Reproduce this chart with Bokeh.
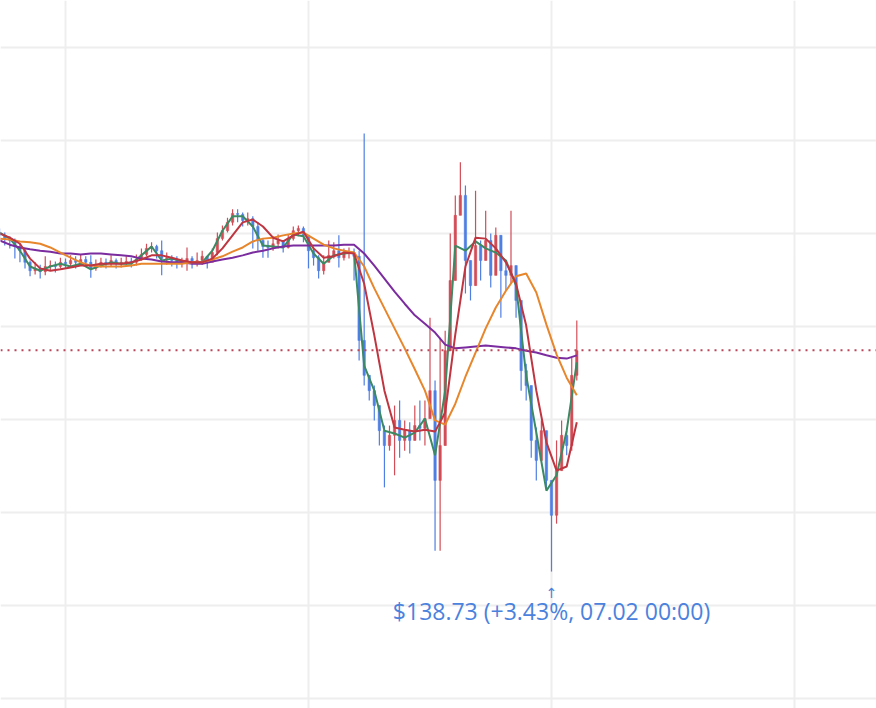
import numpy as np
from bokeh.plotting import figure
from bokeh.models import Range1d, FixedTicker, SingleIntervalTicker, Span, Label, ColumnDataSource
from bokeh.embed import file_html
from bokeh.resources import INLINE

# ---- data (30-minute candles, time in hours since 06.30 00:00) ----
first_open = 146.02
candle_close = [
    145.96, 145.89, 145.85, 145.72, 145.63, 145.38, 145.20, 145.25, 145.18, 145.29,
    145.31, 145.29, 145.38, 145.35, 145.42, 145.38, 145.44, 145.38, 145.25, 145.33,
    145.38, 145.35, 145.42, 145.35, 145.38, 145.40, 145.38, 145.44, 145.55, 145.68,
    145.72, 145.63, 145.46, 145.48, 145.42, 145.38, 145.38, 145.46, 145.38, 145.42,
    145.51, 145.38, 145.59, 145.89, 146.06, 146.24, 146.43, 146.41, 146.28, 146.32,
    146.15, 145.85, 145.72, 145.70, 145.78, 145.85, 145.70, 145.89, 146.06, 146.11,
    145.96, 145.63, 145.48, 145.20, 145.38, 145.53, 145.63, 145.48, 145.57, 145.59,
    145.51, 143.70, 142.95, 142.62, 142.30, 141.76, 141.44, 141.66, 141.98, 141.55,
    141.76, 141.55, 141.87, 141.81, 142.02, 142.62, 140.69, 141.44, 143.48, 144.99,
    146.39, 146.82, 145.42, 144.88, 145.74, 145.42, 145.85, 145.10, 145.96, 145.20,
    145.10, 145.31, 144.56, 143.05, 142.73, 141.55, 141.12, 141.76, 140.69, 139.94,
    140.90, 141.66, 141.44, 142.95, 143.48,
]
candle_high = [
    146.11, 146.02, 145.94, 145.89, 145.78, 145.68, 145.42, 145.38, 145.33, 145.51,
    145.42, 145.40, 145.48, 145.46, 145.53, 145.51, 145.55, 145.51, 145.53, 145.44,
    145.48, 145.46, 145.53, 145.46, 145.48, 145.51, 145.48, 145.55, 145.68, 145.78,
    145.81, 145.76, 145.85, 145.59, 145.53, 145.51, 145.48, 145.70, 145.51, 145.59,
    145.63, 145.51, 145.68, 146.02, 146.17, 146.34, 146.52, 146.52, 146.45, 146.45,
    146.37, 146.24, 145.89, 145.85, 145.94, 145.98, 145.85, 145.98, 146.15, 146.17,
    146.15, 145.85, 145.68, 145.53, 145.53, 145.85, 145.81, 145.96, 145.68, 145.70,
    145.68, 145.63, 148.15, 142.95, 142.73, 142.30, 141.87, 141.87, 142.30, 142.41,
    141.98, 141.94, 142.30, 142.41, 142.41, 144.19, 142.84, 143.76, 143.91, 146.00,
    146.82, 147.53, 147.03, 145.31, 146.92, 145.85, 146.49, 146.00, 146.13, 145.53,
    145.38, 146.49, 145.31, 144.56, 143.20, 142.62, 141.83, 141.98, 141.40, 140.69,
    141.55, 141.98, 141.76, 143.33, 144.13,
]
candle_low = [
    145.85, 145.74, 145.68, 145.46, 145.38, 145.25, 145.08, 145.12, 145.03, 145.10,
    145.20, 145.16, 145.25, 145.25, 145.29, 145.25, 145.33, 145.29, 145.05, 145.20,
    145.27, 145.25, 145.29, 145.25, 145.27, 145.29, 145.27, 145.31, 145.42, 145.51,
    145.59, 145.46, 145.10, 145.33, 145.29, 145.25, 145.27, 145.20, 145.25, 145.29,
    145.33, 145.25, 145.38, 145.53, 145.85, 146.02, 146.17, 146.24, 146.15, 146.17,
    145.68, 145.63, 145.48, 145.48, 145.63, 145.68, 145.59, 145.68, 145.85, 145.94,
    145.81, 145.25, 145.31, 145.03, 145.12, 145.38, 145.46, 145.27, 145.42, 145.46,
    144.99, 143.27, 142.73, 142.41, 141.98, 141.44, 140.54, 141.33, 140.80, 141.18,
    141.33, 141.27, 141.55, 141.55, 141.44, 142.09, 139.18, 139.18, 142.73, 144.19,
    145.85, 146.39, 144.71, 144.56, 145.53, 144.99, 145.53, 144.84, 145.42, 144.19,
    144.77, 144.92, 144.19, 142.62, 142.41, 141.18, 140.69, 141.33, 140.47, 138.73,
    139.76, 141.23, 141.23, 141.33, 142.84,
]

# moving averages, hourly samples
green_ma = [
    146.02, 145.89, 145.63, 145.29, 145.20, 145.29, 145.35, 145.29, 145.35, 145.23,
    145.31, 145.38, 145.35, 145.35, 145.53, 145.72, 145.42, 145.46, 145.40, 145.38,
    145.38, 145.63, 146.06, 146.37, 146.37, 146.15, 145.74, 145.72, 145.70, 145.98,
    145.94, 145.57, 145.35, 145.53, 145.57, 145.59, 143.16, 142.62, 141.76, 141.70,
    141.61, 141.72, 142.02, 141.23, 142.62, 145.74, 145.63, 145.83, 145.68, 145.59,
    145.42, 144.88, 142.95, 141.72, 140.47, 140.80, 141.76, 143.23,
]
red_ma = [
    146.00, 145.91, 145.78, 145.46, 145.25, 145.20, 145.23, 145.27, 145.31, 145.31,
    145.35, 145.35, 145.35, 145.38, 145.44, 145.53, 145.53, 145.48, 145.42, 145.38,
    145.38, 145.46, 145.68, 145.96, 146.24, 146.30, 146.15, 145.91, 145.83, 145.96,
    146.04, 145.68, 145.48, 145.51, 145.59, 145.57, 144.92, 143.81, 142.62, 141.83,
    141.78, 141.74, 141.78, 141.74, 142.15, 143.83, 145.29, 145.91, 145.89, 145.68,
    145.38, 144.92, 144.02, 142.62, 141.51, 140.90, 140.99, 141.94,
]
orange_ma = [
    145.89, 145.87, 145.83, 145.81, 145.78, 145.70, 145.59, 145.48, 145.38, 145.31,
    145.29, 145.29, 145.29, 145.31, 145.35, 145.35, 145.35, 145.35, 145.35, 145.38,
    145.38, 145.44, 145.51, 145.61, 145.70, 145.83, 145.89, 145.91, 145.96, 146.00,
    146.02, 145.89, 145.76, 145.68, 145.63, 145.59, 145.29, 144.82, 144.39, 143.96,
    143.53, 143.08, 142.62, 141.98, 141.89, 142.34, 142.92, 143.44, 143.96, 144.41,
    144.77, 145.08, 145.14, 144.73, 144.04, 143.40, 142.90, 142.52,
]
purple_ma = [
    145.85, 145.76, 145.70, 145.66, 145.63, 145.61, 145.57, 145.57, 145.55, 145.57,
    145.57, 145.55, 145.53, 145.51, 145.46, 145.44, 145.40, 145.38, 145.38, 145.35,
    145.35, 145.40, 145.44, 145.48, 145.53, 145.59, 145.63, 145.68, 145.72, 145.74,
    145.74, 145.74, 145.74, 145.74, 145.76, 145.76, 145.57, 145.31, 145.03, 144.75,
    144.49, 144.24, 144.06, 143.87, 143.61, 143.53, 143.55, 143.57, 143.59, 143.57,
    143.55, 143.53, 143.48, 143.44, 143.38, 143.33, 143.31, 143.38,
]

day_ticks = [0, 24, 48, 72]           # 06.30, 07.01, 07.02, 07.03 00:00
current_price = 143.49
low_price = 138.73
low_time = 48
low_time_label = "07.02 00:00"

# ---- derived ----
n = len(candle_close)
t_candle = -6.5 + 0.5 * np.arange(n)
close = np.array(candle_close)
opens = np.concatenate([[first_open], close[:-1]])
high = np.maximum(np.array(candle_high), np.maximum(opens, close))
low = np.minimum(np.array(candle_low), np.minimum(opens, close))
up = close >= opens
UP_COL, DOWN_COL = "#d24d57", "#4f7fe2"
colors = [UP_COL if u else DOWN_COL for u in up]
src = ColumnDataSource(dict(t=t_candle, o=opens, c=close, h=high, l=low,
                            top=np.maximum(opens, close),
                            bot=np.minimum(opens, close), col=colors))
t_ma = -6.5 + np.arange(len(green_ma))

p = figure(width=876, height=708, output_backend="svg", toolbar_location=None,
           x_range=Range1d(-6.42, 80.1), y_range=Range1d(135.785, 151.011),
           min_border=0, min_border_left=0, min_border_right=0,
           min_border_top=0, min_border_bottom=0)
p.outline_line_color = None
p.background_fill_color = "white"
p.border_fill_color = "white"
p.xaxis.visible = False
p.yaxis.visible = False
p.xgrid.ticker = FixedTicker(ticks=day_ticks)
p.ygrid.ticker = SingleIntervalTicker(interval=2)
for g in (p.xgrid, p.ygrid):
    g.grid_line_color = "#eeeeee"
    g.grid_line_width = 2

p.segment(x0="t", y0="h", x1="t", y1="l", color="col", line_width=1.2, source=src)
p.vbar(x="t", width=0.24, top="top", bottom="bot", fill_color="col", line_color="col",
       line_width=0.5, source=src)

p.line(t_ma, green_ma, line_color="#3b8a63", line_width=2)
p.line(t_ma, purple_ma, line_color="#7b2c9f", line_width=2)
p.line(t_ma, orange_ma, line_color="#e8862c", line_width=2)
p.line(t_ma, red_ma, line_color="#bf3540", line_width=2)

p.add_layout(Span(location=current_price, dimension="width", line_color="#b9475b",
                  line_dash="2 5", line_width=2))

pct = (current_price / low_price - 1) * 100
label_text = f"${low_price:.2f} (+{pct:.2f}%, {low_time_label})"
p.add_layout(Label(x=low_time, y=low_price, text="\u2191", text_align="center",
                   text_baseline="middle", y_offset=-21, text_font_size="14px",
                   text_color="#4b82dd", text_font="DejaVu Sans"))
p.add_layout(Label(x=low_time, y=low_price, text=label_text, text_align="center",
                   text_baseline="middle", y_offset=-39, text_font_size="23px",
                   text_color="#4b82dd", text_font="Open Sans"))

open("out.html", "w").write(file_html(p, INLINE))
